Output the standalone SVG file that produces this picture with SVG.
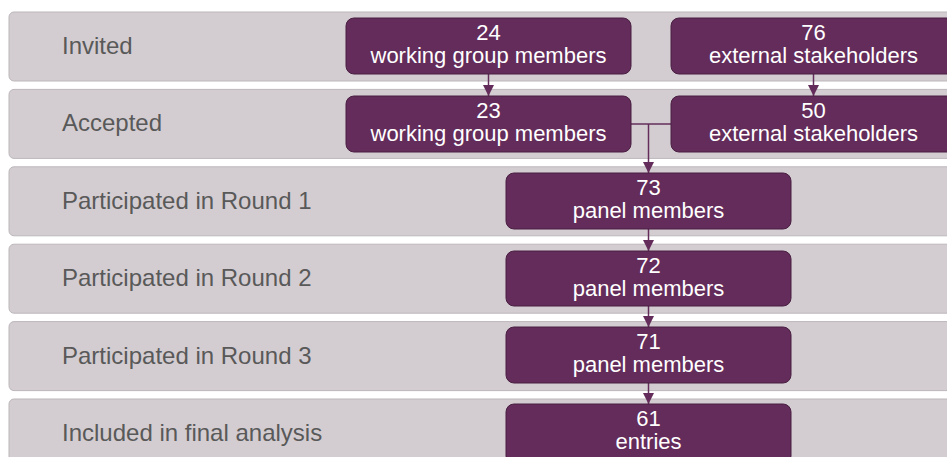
<svg xmlns="http://www.w3.org/2000/svg" width="947" height="457" viewBox="0 0 947 457">
<defs>
<style>
.band{fill:#d3cdd1;stroke:#bdb7bb;stroke-width:1}
.lbl{font-family:"Liberation Sans",Arial,sans-serif;font-size:24px;fill:#595959}
.box{fill:#632c5a;stroke:#4a1f43;stroke-width:1}
.t{font-family:"Liberation Sans",Arial,sans-serif;font-size:22px;fill:#ffffff;text-anchor:middle}
.c{fill:none;stroke:#632c5a;stroke-width:1.5}
</style>
<marker id="ah" viewBox="0 0 11 11" refX="11" refY="5.5" markerWidth="11" markerHeight="11" markerUnits="userSpaceOnUse" orient="auto">
<path d="M0,0 L11,5.5 L0,11 Z" fill="#632c5a"/>
</marker>
</defs>
<rect width="947" height="457" fill="#ffffff"/>
<g id="rows">
<g id="row-invited"><rect class="band" x="9" y="12" width="950" height="69" rx="5"/><text class="lbl" x="62" y="54">Invited</text></g>
<g id="row-accepted"><rect class="band" x="9" y="89.4" width="950" height="69" rx="5"/><text class="lbl" x="62" y="131.4">Accepted</text></g>
<g id="row-r1"><rect class="band" x="9" y="166.8" width="950" height="69" rx="5"/><text class="lbl" x="62" y="208.8">Participated in Round 1</text></g>
<g id="row-r2"><rect class="band" x="9" y="244.2" width="950" height="69" rx="5"/><text class="lbl" x="62" y="286.2">Participated in Round 2</text></g>
<g id="row-r3"><rect class="band" x="9" y="321.6" width="950" height="69" rx="5"/><text class="lbl" x="62" y="363.6">Participated in Round 3</text></g>
<g id="row-final"><rect class="band" x="9" y="399" width="950" height="69" rx="5"/><text class="lbl" x="62" y="441">Included in final analysis</text></g>
</g>
<g id="connectors">
<line class="c" x1="488.5" y1="74" x2="488.5" y2="96" marker-end="url(#ah)"/>
<line class="c" x1="813.5" y1="74" x2="813.5" y2="96" marker-end="url(#ah)"/>
<polyline class="c" points="631,124 671,124"/>
<line class="c" x1="648.5" y1="124" x2="648.5" y2="173" marker-end="url(#ah)"/>
<line class="c" x1="648.5" y1="229" x2="648.5" y2="251" marker-end="url(#ah)"/>
<line class="c" x1="648.5" y1="306" x2="648.5" y2="327" marker-end="url(#ah)"/>
<line class="c" x1="648.5" y1="383" x2="648.5" y2="404" marker-end="url(#ah)"/>
</g>
<g id="n-wg-inv"><rect class="box" x="346" y="18" width="285" height="56" rx="8"/><text class="t" x="488.5" y="40">24</text><text class="t" x="488.5" y="63">working group members</text></g>
<g id="n-ext-inv"><rect class="box" x="671" y="18" width="285" height="56" rx="8"/><text class="t" x="813.5" y="40">76</text><text class="t" x="813.5" y="63">external stakeholders</text></g>
<g id="n-wg-acc"><rect class="box" x="346" y="96" width="285" height="56" rx="8"/><text class="t" x="488.5" y="118">23</text><text class="t" x="488.5" y="141">working group members</text></g>
<g id="n-ext-acc"><rect class="box" x="671" y="96" width="285" height="56" rx="8"/><text class="t" x="813.5" y="118">50</text><text class="t" x="813.5" y="141">external stakeholders</text></g>
<g id="n-r1"><rect class="box" x="506" y="173" width="285" height="56" rx="8"/><text class="t" x="648.5" y="195">73</text><text class="t" x="648.5" y="218">panel members</text></g>
<g id="n-r2"><rect class="box" x="506" y="251" width="285" height="55" rx="8"/><text class="t" x="648.5" y="273">72</text><text class="t" x="648.5" y="296">panel members</text></g>
<g id="n-r3"><rect class="box" x="506" y="327" width="285" height="56" rx="8"/><text class="t" x="648.5" y="349">71</text><text class="t" x="648.5" y="372">panel members</text></g>
<g id="n-final"><rect class="box" x="506" y="404" width="285" height="60" rx="8"/><text class="t" x="648.5" y="426">61</text><text class="t" x="648.5" y="449">entries</text></g>
</svg>
